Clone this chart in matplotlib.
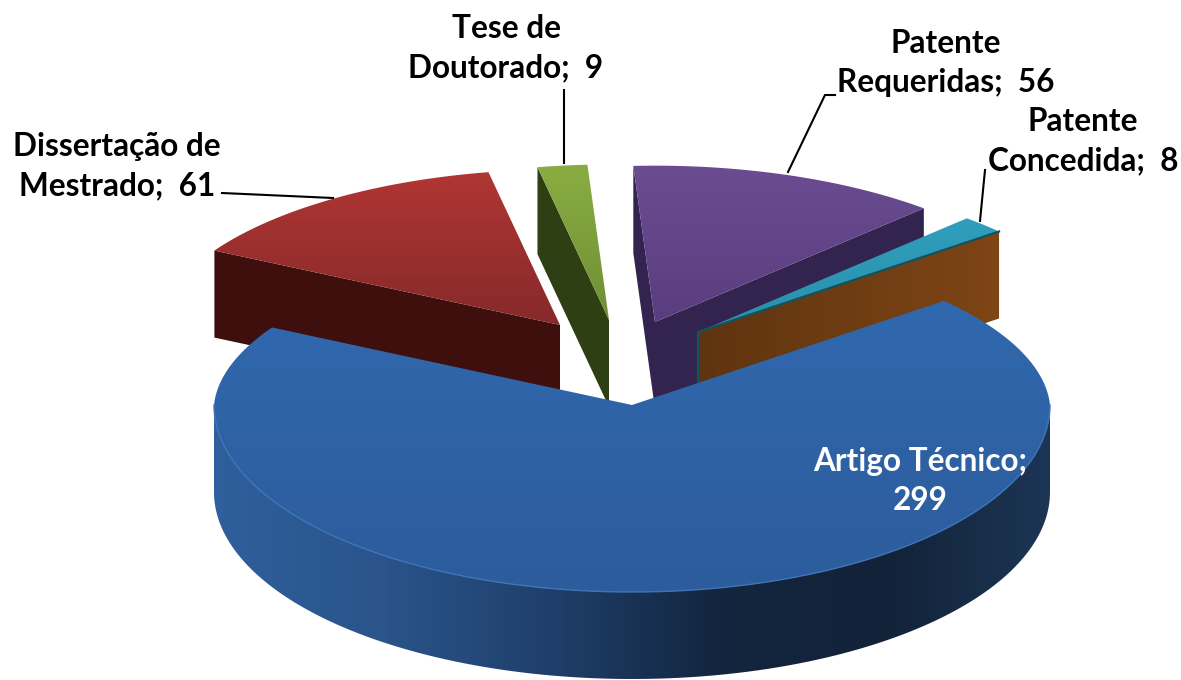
import numpy as np
import matplotlib
matplotlib.use("Agg")
import matplotlib.pyplot as plt
from matplotlib.colors import LinearSegmentedColormap
from matplotlib.patches import Polygon

# wedge values, clockwise starting from the big one
categories = ["Artigo Técnico", "Dissertação de Mestrado", "Tese de Doutorado",
              "Patente Requeridas", "Patente Concedida"]
values = [299, 61, 9, 56, 8]

# fake-3D layout, in pixels
cx, cy = 632, 405
rx, ry_front, ry_back = 418, 187, 162
back_narrowing = 0.04
depth = 87
start_angle = 40
apex_offset = [(0, 0), (-72, -80), (-23, -85), (23, -83), (66, -73)]
radius_scale = [1.0, 0.96, 0.96, 0.965, 0.965]

top_colors = [("#3168ae", "#2c5c9c"), ("#b03633", "#86292a"), ("#8aad42", "#6f8f35"),
              ("#6b4c92", "#5a3d7e"), ("#2f9fbd", "#2a8fa8")]
cut_colors = [None, "#3e0f0d", "#2f3f14", "#33234f", None]

fig = plt.figure(figsize=(11.81, 6.80), dpi=100)
ax = fig.add_axes([0, 0, 1, 1])
ax.axis("off")


def rim_point(i, deg):
    a = np.radians(deg)
    ox, oy = apex_offset[i]
    s = np.sin(a)
    ry = np.where(s < 0, ry_front, ry_back)
    narrow = 1 - back_narrowing * np.clip(s, 0, 1)
    r = radius_scale[i]
    return np.column_stack([cx + ox + r * rx * np.cos(a) * narrow, cy + oy - r * ry * s])


def gradient_fill(points, colors, z, horizontal=False):
    cmap = LinearSegmentedColormap.from_list("g", colors)
    patch = Polygon(points, closed=True, fc="none", ec="none", zorder=z)
    ax.add_patch(patch)
    ramp = np.linspace(0, 1, 256)
    ramp = ramp.reshape(1, -1) if horizontal else ramp.reshape(-1, 1)
    x0, y0 = points.min(axis=0)
    x1, y1 = points.max(axis=0)
    im = ax.imshow(ramp, cmap=cmap, extent=[x0, x1, y1, y0], aspect="auto",
                   zorder=z, interpolation="bilinear")
    im.set_clip_path(patch)


spans = np.array(values) / sum(values) * 360
ends = start_angle - np.cumsum(spans)
begins = ends + spans

z = 1
for i in [1, 2, 3, 4, 0]:
    arc_deg = np.linspace(begins[i], ends[i], 200)
    rim = rim_point(i, arc_deg)
    apex = np.array([[cx + apex_offset[i][0], cy + apex_offset[i][1]]])
    down = np.array([0, depth])

    # cut faces that look at the viewer
    if i == 1:
        faces = [rim[0]]
    elif i == 2:
        faces = [rim[0]]
    elif i == 3:
        faces = [rim[0], rim[-1]]
    else:
        faces = []
    for e in faces:
        quad = np.vstack([apex, e, e + down, apex + down])
        ax.add_patch(Polygon(quad, closed=True, fc=cut_colors[i], ec="none", zorder=z))
    if i == 4:
        quad = np.vstack([apex, rim[-1], rim[-1] + down, apex + down])
        gradient_fill(quad, ["#5f3410", "#7e4515"], z, horizontal=True)
    z += 1

    # outer wall, front half only
    if i == 0:
        front = rim_point(0, np.linspace(180, 360, 300))
        wall = np.vstack([front, (front + down)[::-1]])
        gradient_fill(wall, ["#2f5f9c", "#2a548a", "#1f3f6b", "#13263f", "#122238", "#1c3554"],
                      z, horizontal=True)
        z += 1

    top = np.vstack([apex, rim])
    gradient_fill(top, top_colors[i], z)
    z += 1

    if i == 4:
        # dark teal lip between the top and the brown face
        ax.plot([rim[-1][0], apex[0][0], apex[0][0]],
                [rim[-1][1], apex[0][1], apex[0][1] + depth],
                color="#14525e", lw=1.6, zorder=z)
        z += 1

    if i == 0:
        ax.plot(front[:, 0], front[:, 1], color="#3f74b8", lw=1.0, zorder=z)
        z += 1

# leader lines
ax.plot([222, 333], [193, 198], color="black", lw=1.5, zorder=z)
ax.plot([564, 564], [163, 90], color="black", lw=1.5, zorder=z)
ax.plot([788, 825, 835], [172, 95, 95], color="black", lw=1.5, zorder=z)
ax.plot([980, 985], [221, 170], color="black", lw=1.5, zorder=z)

label_font = dict(family="Lato", fontsize=22.7, fontweight="bold", ha="center", va="center",
                  linespacing=1.42, zorder=z + 1)
ax.text(117, 166, "Dissertação de\nMestrado;  61", color="black", **label_font)
ax.text(506, 48, "Tese de\nDoutorado;  9", color="black", **label_font)
ax.text(946, 63, "Patente\nRequeridas;  56", color="black", **label_font)
ax.text(1083, 141, "Patente\nConcedida;  8", color="black", **label_font)
ax.text(920, 481, "Artigo Técnico;\n299", color="white", **label_font)

ax.set_xlim(0, 1181)
ax.set_ylim(680, 0)
fig.savefig("out.png", dpi=100)
